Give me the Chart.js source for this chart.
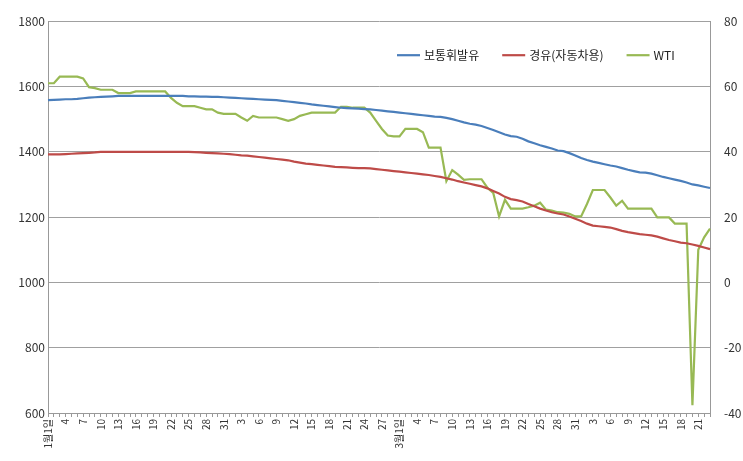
<!DOCTYPE html>
<html><head><meta charset="utf-8">
<script src="https://cdn.jsdelivr.net/npm/chart.js@4"></script>
<style>html,body{margin:0;padding:0;background:#fff}#w{width:743px;height:461px}</style>
</head><body><div id="w"><canvas id="c"></canvas></div>
<script>
const seriesNames=['보통휘발유','경유(자동차용)','WTI'];
const gasoline=[1558,1559,1560,1561,1561,1562,1564,1566,1567,1568,
1569,1570,1571,1571,1571,1571,1571,1571,1571,1571,
1571,1571,1571,1571,1570,1570,1569,1569,1568,1568,
1567,1566,1565,1564,1563,1562,1561,1560,1559,1558,
1556,1554,1552,1550,1548,1545,1543,1541,1539,1537,
1535,1534,1533,1532,1531,1530,1528,1526,1524,1522,
1520,1518,1516,1514,1512,1510,1508,1507,1504,1500,
1495,1490,1486,1483,1479,1473,1467,1460,1453,1448,
1446,1440,1432,1426,1420,1415,1410,1404,1402,1396,
1389,1381,1375,1370,1366,1362,1358,1355,1350,1345,
1341,1337,1336,1333,1328,1323,1319,1315,1311,1306,
1300,1297,1293,1289];
const diesel=[1392,1392,1392,1393,1394,1395,1396,1397,1398,1400,
1400,1400,1400,1400,1400,1400,1400,1400,1400,1400,
1400,1400,1400,1400,1400,1399,1398,1397,1396,1395,
1394,1393,1391,1389,1388,1386,1384,1382,1380,1378,
1376,1374,1370,1367,1364,1362,1360,1358,1356,1354,
1353,1352,1351,1350,1350,1349,1347,1345,1343,1341,
1339,1337,1335,1333,1331,1329,1326,1323,1319,1315,
1310,1306,1302,1298,1294,1288,1280,1272,1262,1255,
1252,1248,1240,1233,1226,1220,1215,1211,1208,1202,
1195,1188,1180,1174,1172,1170,1168,1163,1158,1154,
1151,1148,1146,1144,1140,1135,1130,1126,1122,1120,
1116,1112,1107,1102];
const wti=[61,61,63,63,63,63,62.5,59.8,59.5,59,
59,59,58,58,58,58.5,58.5,58.5,58.5,58.5,
58.5,56.5,55,54,54,54,53.5,53,53,52,
51.6,51.6,51.6,50.5,49.5,51,50.5,50.5,50.5,50.5,
50,49.5,50,51,51.5,52,52,52,52,52,
53.8,53.8,53.5,53.5,53.5,52,49.5,47,45,44.7,
44.7,47,47,47,46,41.3,41.3,41.3,31,34.4,
33,31.4,31.6,31.6,31.6,29,27.4,20.2,25.3,22.6,
22.6,22.6,23,23.5,24.4,22.3,22,21.5,21.4,21,
20.2,20.2,24,28.3,28.3,28.3,26,23.5,25,22.6,
22.6,22.6,22.6,22.6,19.9,19.9,19.9,18,18,18,
-37.6,10,13.8,16.5];
// categories: daily dates 2020-01-01 .. 2020-04-23
const categories=[];
for(let i=0;i<gasoline.length;i++){const d=new Date(2020,0,1+i);categories.push({m:d.getMonth()+1,d:d.getDate()});}
const labels=categories.map(c=>c.d===1&&(c.m===1||c.m===3)?c.m+'월'+c.d+'일':String(c.d));

const F="'Noto Sans CJK KR','Noto Sans',sans-serif";
const inLegend={id:'inLegend',afterDraw(chart){
  const ctx=chart.ctx;const a=chart.chartArea;
  const y=a.top+34; let x=a.left+349;
  ctx.save();ctx.font='12px '+F;ctx.textBaseline='middle';
  chart.data.datasets.forEach(ds=>{
    ctx.strokeStyle=ds.borderColor;ctx.lineWidth=2.2;
    ctx.beginPath();ctx.moveTo(x,y);ctx.lineTo(x+23,y);ctx.stroke();
    ctx.fillStyle='#222';ctx.fillText(ds.label,x+27,y);
    x+=27+ctx.measureText(ds.label).width+23;
  });
  ctx.restore();
}};
new Chart(document.getElementById('c'),{
type:'line',
data:{labels,datasets:[
{label:seriesNames[0],data:gasoline,borderColor:'#4a7ebb',backgroundColor:'#4a7ebb',yAxisID:'y',borderWidth:2.2,pointRadius:0,tension:0},
{label:seriesNames[1],data:diesel,borderColor:'#be4b48',backgroundColor:'#be4b48',yAxisID:'y',borderWidth:2.2,pointRadius:0,tension:0},
{label:seriesNames[2],data:wti,borderColor:'#98b954',backgroundColor:'#98b954',yAxisID:'y1',borderWidth:2.2,pointRadius:0,tension:0}
]},
plugins:[inLegend],
options:{responsive:true,maintainAspectRatio:false,animation:false,
layout:{padding:{top:8,right:2,left:6,bottom:0}},
plugins:{legend:{display:false},tooltip:{enabled:false}},
scales:{
x:{grid:{display:true,drawOnChartArea:false,drawTicks:true,tickLength:4,color:'#999'},border:{color:'#999'},
 ticks:{autoSkip:false,minRotation:90,maxRotation:90,color:'#333',font:{family:F,size:10},padding:2,
 callback:(v,i)=>i%3===0?labels[i]:''},afterFit(s){s.height=48;}},
y:{position:'left',min:600,max:1800,ticks:{stepSize:200,color:'#333',font:{family:F,size:12},callback:v=>String(v)},grid:{color:'#a0a0a0',drawTicks:false},border:{color:'#999'},afterFit(s){s.width=42;}},
y1:{position:'right',min:-40,max:80,ticks:{stepSize:20,color:'#333',font:{family:F,size:12},padding:14},grid:{drawOnChartArea:false,drawTicks:false},border:{color:'#999'},afterFit(s){s.width=31;}}
}}});
</script></body></html>
